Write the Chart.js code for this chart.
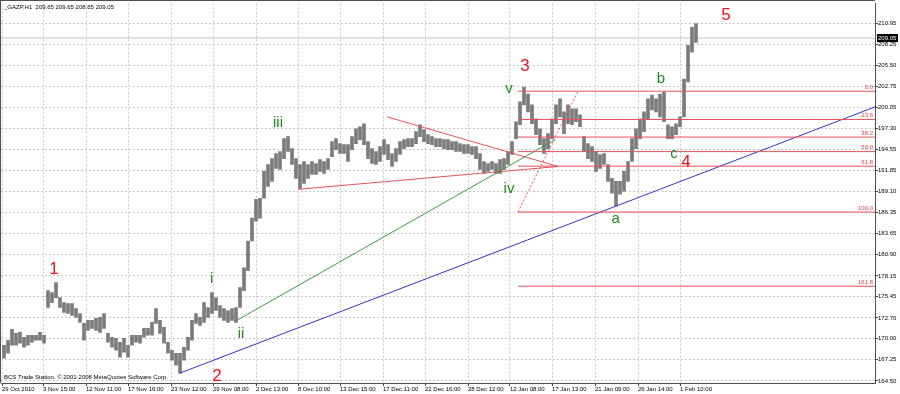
<!DOCTYPE html>
<html>
<head>
<meta charset="utf-8">
<title>GAZP H1</title>
<script src="https://cdn.jsdelivr.net/npm/chart.js@4.4.1/dist/chart.umd.min.js"></script>
<style>
    html, body { margin: 0; padding: 0; background: #ffffff; }
    #caja { width: 900px; height: 394px; }
</style>
</head>
<body>
<div id="caja"><canvas id="grafico" width="900" height="394"></canvas></div>
<script>
// Datos (cada barra = un tramo de ~4 px del original)
const tituloSerie = '_GAZP,H1  209.65 209.65 208.65 209.05';
const piePagina = 'BCS Trade Station. \u00a9 2001-2008 MetaQuotes Software Corp.';
const precioActual = 209.05;

const barHigh = [
    169.15, 169.79, 171.21, 170.69, 170.82, 170.18, 170.44, 170.44, 170.44, 170.82,
    170.44, 176.24, 175.98, 177.27, 175.34, 174.69, 174.56, 174.56, 173.92, 173.27,
    171.98, 172.37, 172.37, 172.63, 172.76, 173.27, 170.69, 170.18, 170.05, 169.53,
    170.05, 169.15, 170.44, 170.44, 170.44, 171.34, 171.34, 172.11, 173.92, 172.37,
    171.47, 169.53, 168.50, 168.11, 168.11, 168.89, 170.18, 172.37, 173.27, 172.76,
    174.69, 174.05, 175.98, 175.34, 174.31, 173.92, 173.66, 173.92, 174.05, 176.63,
    179.21, 182.69, 185.66, 188.11, 188.24, 191.73, 192.63, 193.40, 194.05, 194.31,
    195.98, 196.24, 194.69, 193.40, 192.63, 193.02, 192.63, 193.02, 192.76, 193.27,
    193.02, 193.40, 195.60, 195.98, 195.34, 195.21, 195.21, 196.24, 197.27, 197.53,
    197.92, 195.60, 194.69, 194.31, 194.95, 195.85, 195.21, 194.05, 194.69, 195.60,
    195.85, 195.98, 195.98, 196.89, 197.79, 197.15, 196.50, 196.24, 195.98, 195.98,
    195.85, 195.85, 195.60, 195.60, 195.34, 195.21, 195.21, 194.95, 194.95, 194.05,
    193.02, 192.76, 193.02, 192.76, 193.27, 193.40, 194.31, 195.60, 198.18, 200.76,
    202.69, 201.79, 200.37, 198.56, 197.27, 195.98, 196.63, 198.56, 200.37, 201.15,
    199.47, 200.37, 199.85, 199.85, 199.08, 196.24, 195.34, 194.95, 194.31, 193.92,
    194.05, 192.63, 190.82, 190.44, 190.44, 191.73, 193.02, 195.98, 197.27, 198.56,
    199.47, 201.15, 201.66, 201.15, 201.79, 202.05, 197.79, 197.53, 197.92, 198.82,
    203.73, 208.11, 210.44, 210.95
];
const barLow = [
    167.47, 168.11, 169.15, 169.15, 169.40, 168.89, 169.15, 169.53, 169.79, 169.79,
    169.40, 174.05, 174.69, 175.34, 174.05, 173.40, 173.27, 173.02, 172.76, 172.11,
    169.79, 171.08, 171.34, 171.08, 170.82, 171.34, 169.53, 168.89, 168.50, 167.60,
    168.24, 167.60, 169.15, 169.53, 169.40, 170.18, 170.44, 170.44, 171.98, 170.69,
    169.40, 168.11, 167.21, 166.56, 165.53, 167.21, 168.50, 169.79, 171.98, 171.73,
    172.11, 172.76, 173.27, 173.66, 172.76, 172.37, 172.11, 172.37, 172.11, 174.05,
    176.24, 178.82, 182.69, 185.27, 185.66, 188.24, 189.79, 190.44, 192.11, 191.98,
    193.40, 194.31, 192.63, 190.82, 189.53, 190.18, 190.82, 191.34, 191.34, 191.73,
    191.47, 191.98, 193.66, 194.56, 194.05, 194.05, 193.02, 194.56, 195.34, 195.85,
    195.21, 193.40, 192.76, 192.63, 193.02, 193.92, 193.27, 192.37, 193.02, 193.92,
    194.69, 194.95, 194.95, 195.34, 196.24, 195.60, 195.34, 195.21, 194.95, 194.95,
    194.69, 194.56, 194.56, 194.31, 194.31, 194.05, 194.05, 193.92, 193.40, 191.98,
    191.47, 191.73, 191.98, 191.47, 191.47, 191.98, 192.63, 193.92, 195.98, 197.79,
    200.37, 199.47, 197.92, 196.50, 195.21, 194.05, 194.69, 195.98, 197.92, 198.82,
    196.63, 197.92, 197.79, 198.18, 197.53, 194.31, 193.40, 193.02, 191.73, 192.11,
    192.63, 190.44, 188.89, 187.21, 188.76, 189.15, 190.44, 193.02, 194.69, 195.98,
    196.89, 198.56, 199.72, 199.47, 198.82, 198.18, 195.98, 195.98, 196.50, 197.53,
    198.82, 203.34, 207.21, 208.50
];

// Eje horizontal: posicion (en barras) y texto de cada marca
const xTickIdx = [-0.5, 9.75, 20.5, 31, 41.75, 52.25, 63, 73.5, 84, 94.75, 105.25, 116, 126.5, 137, 147.75, 158.5, 169];
const xTickLabels = ['29 Oct 2010', '3 Nov 15:00', '12 Nov 11:00', '17 Nov 16:00', '23 Nov 12:00', '29 Nov 08:00',
    '2 Dec 13:00', '8 Dec 10:00', '13 Dec 15:00', '17 Dec 11:00', '22 Dec 16:00', '28 Dec 12:00',
    '12 Jan 08:00', '17 Jan 13:00', '21 Jan 09:00', '26 Jan 14:00', '1 Feb 10:00'];
const yTicks = [164.50, 167.25, 170.00, 172.70, 175.45, 178.15, 180.90, 183.65, 186.35, 189.10,
    191.85, 194.55, 197.30, 200.05, 202.75, 205.50, 208.25, 210.95];

// Niveles de Fibonacci
const fibNames = ['0.0', '23.6', '38.2', '50.0', '61.8', '100.0', '161.8'];
const fibPrices = [202.15, 198.47, 196.19, 194.30, 192.41, 186.45, 176.81];
const fibFrom = 128.5;

// Lineas de tendencia: [barra, precio] de cada extremo
const lineaAzul = [[44, 165.53], [217.75, 200.11]];
const lineaVerde = [[57.75, 172.24], [137.75, 195.85]];
const lineaRojaSup = [[95.75, 198.82], [138.5, 192.37]];
const lineaRojaInf = [[73.5, 189.40], [138.5, 192.37]];
const lineaFibDiag = [[128.5, 186.45], [143.5, 202.15]];

// Etiquetas de ondas
const ondasRojas = ['1', '2', '3', '4', '5'];
const ondasRojasX = [12.5, 53.25, 130.25, 170.5, 180.5];
const ondasRojasY = [178.95, 165.15, 205.40, 192.89, 211.98];
const ondasVerdes = ['i', 'ii', 'iii', 'iv', 'v', 'a', 'b', 'c'];
const ondasVerdesX = [51.9, 59.25, 68.5, 126.25, 126.25, 152.9, 164.25, 167.5];
const ondasVerdesY = [177.79, 170.56, 198.05, 189.40, 202.44, 185.53, 203.73, 194.05];

const X_MIN = -0.75;
const X_MAX = 217.75;
const FUENTE = "'Liberation Sans', Arial, sans-serif";
const ROJO = '#e8505a';

function linea(puntos, color, orden, dash) {
    return {
        type: 'line',
        data: puntos.map(p => ({ x: p[0], y: p[1] })),
        borderColor: color,
        borderWidth: 1,
        borderDash: dash || [],
        pointRadius: 0,
        fill: false,
        order: orden
    };
}

const textosPlugin = {
    id: 'textos',
    afterDraw(chart) {
        const ctx = chart.ctx;
        const xs = chart.scales.x;
        const ys = chart.scales.y;
        const area = chart.chartArea;
        ctx.save();

        // marco superior e izquierdo
        ctx.fillStyle = '#505050';
        ctx.fillRect(0, 0, area.right, 1);
        ctx.fillRect(0, 0, 1, area.bottom);

        ctx.font = '6px ' + FUENTE;
        ctx.fillStyle = '#000';
        ctx.textAlign = 'left';
        ctx.textBaseline = 'middle';
        ctx.fillText(tituloSerie, 4, 7);
        ctx.fillText(piePagina, 4, 377);

        // etiquetas de Fibonacci
        ctx.fillStyle = '#e03c46';
        ctx.textAlign = 'right';
        ctx.textBaseline = 'bottom';
        fibNames.forEach((n, i) => {
            ctx.fillText(n, area.right - 2, ys.getPixelForValue(fibPrices[i]) - 1);
        });

        // ondas
        ctx.textAlign = 'center';
        ctx.textBaseline = 'middle';
        ctx.font = '17px ' + FUENTE;
        ctx.fillStyle = '#e8141e';
        ondasRojas.forEach((t, i) => {
            ctx.fillText(t, xs.getPixelForValue(ondasRojasX[i]), ys.getPixelForValue(ondasRojasY[i]));
        });
        ctx.font = '15px ' + FUENTE;
        ctx.fillStyle = '#1e8c1e';
        ondasVerdes.forEach((t, i) => {
            ctx.fillText(t, xs.getPixelForValue(ondasVerdesX[i]), ys.getPixelForValue(ondasVerdesY[i]));
        });

        // precio actual en el eje
        const yp = Math.round(ys.getPixelForValue(precioActual));
        ctx.fillStyle = '#000';
        ctx.fillRect(area.right + 2, yp - 4, 21, 8);
        ctx.fillStyle = '#fff';
        ctx.font = '6px ' + FUENTE;
        ctx.textAlign = 'left';
        ctx.fillText(precioActual.toFixed(2), area.right + 3, yp);
        ctx.restore();
    }
};

document.addEventListener('DOMContentLoaded', function() {
    Chart.defaults.font.family = FUENTE;
    Chart.defaults.font.size = 6;
    Chart.defaults.color = '#000';

    const barras = barHigh.map((h, i) => ({ x: i, y: [barLow[i], h] }));

    const datasets = [
        { type: 'bar', data: barras, backgroundColor: '#7c7c7c', borderWidth: 0, barThickness: 3, order: 5 },
        linea([[X_MIN, precioActual], [X_MAX, precioActual]], '#c4c4c4', 6),
        linea(lineaAzul, '#3434c4', 2),
        linea(lineaVerde, '#3c9c3c', 2),
        linea(lineaRojaSup, ROJO, 2),
        linea(lineaRojaInf, ROJO, 2),
        linea(lineaFibDiag, ROJO, 2, [2, 2])
    ];
    // niveles de Fibonacci por encima de las barras
    fibPrices.forEach(p => datasets.push(linea([[fibFrom, p], [X_MAX, p]], ROJO, 1)));

    new Chart(document.getElementById('grafico'), {
        type: 'bar',
        data: { datasets: datasets },
        options: {
            responsive: false,
            animation: false,
            events: [],
            layout: { padding: { left: 1, top: 1, right: 0, bottom: 0 } },
            plugins: { legend: { display: false }, tooltip: { enabled: false } },
            scales: {
                x: {
                    type: 'linear',
                    min: X_MIN,
                    max: X_MAX,
                    offset: false,
                    grid: { offset: false, color: '#c8c8c8', tickColor: '#404040', tickLength: 3 },
                    border: { color: '#505050', dash: [2, 2] },
                    ticks: {
                        autoSkip: false,
                        maxRotation: 0,
                        minRotation: 0,
                        align: 'start',
                        padding: 0,
                        callback: (v, i) => xTickLabels[i]
                    },
                    afterBuildTicks: s => { s.ticks = xTickIdx.map(v => ({ value: v })); },
                    afterFit: s => { s.height = 11; }
                },
                y: {
                    type: 'linear',
                    position: 'right',
                    min: 164.24,
                    max: 213.53,
                    grid: { color: '#c8c8c8', tickColor: '#404040', tickLength: 3 },
                    border: { color: '#505050', dash: [2, 2] },
                    ticks: { padding: 0, crossAlign: 'near', callback: v => v.toFixed(2) },
                    afterBuildTicks: s => { s.ticks = yTicks.map(v => ({ value: v })); },
                    afterFit: s => { s.width = 25; }
                }
            }
        },
        plugins: [textosPlugin]
    });
});
</script>
</body>
</html>
